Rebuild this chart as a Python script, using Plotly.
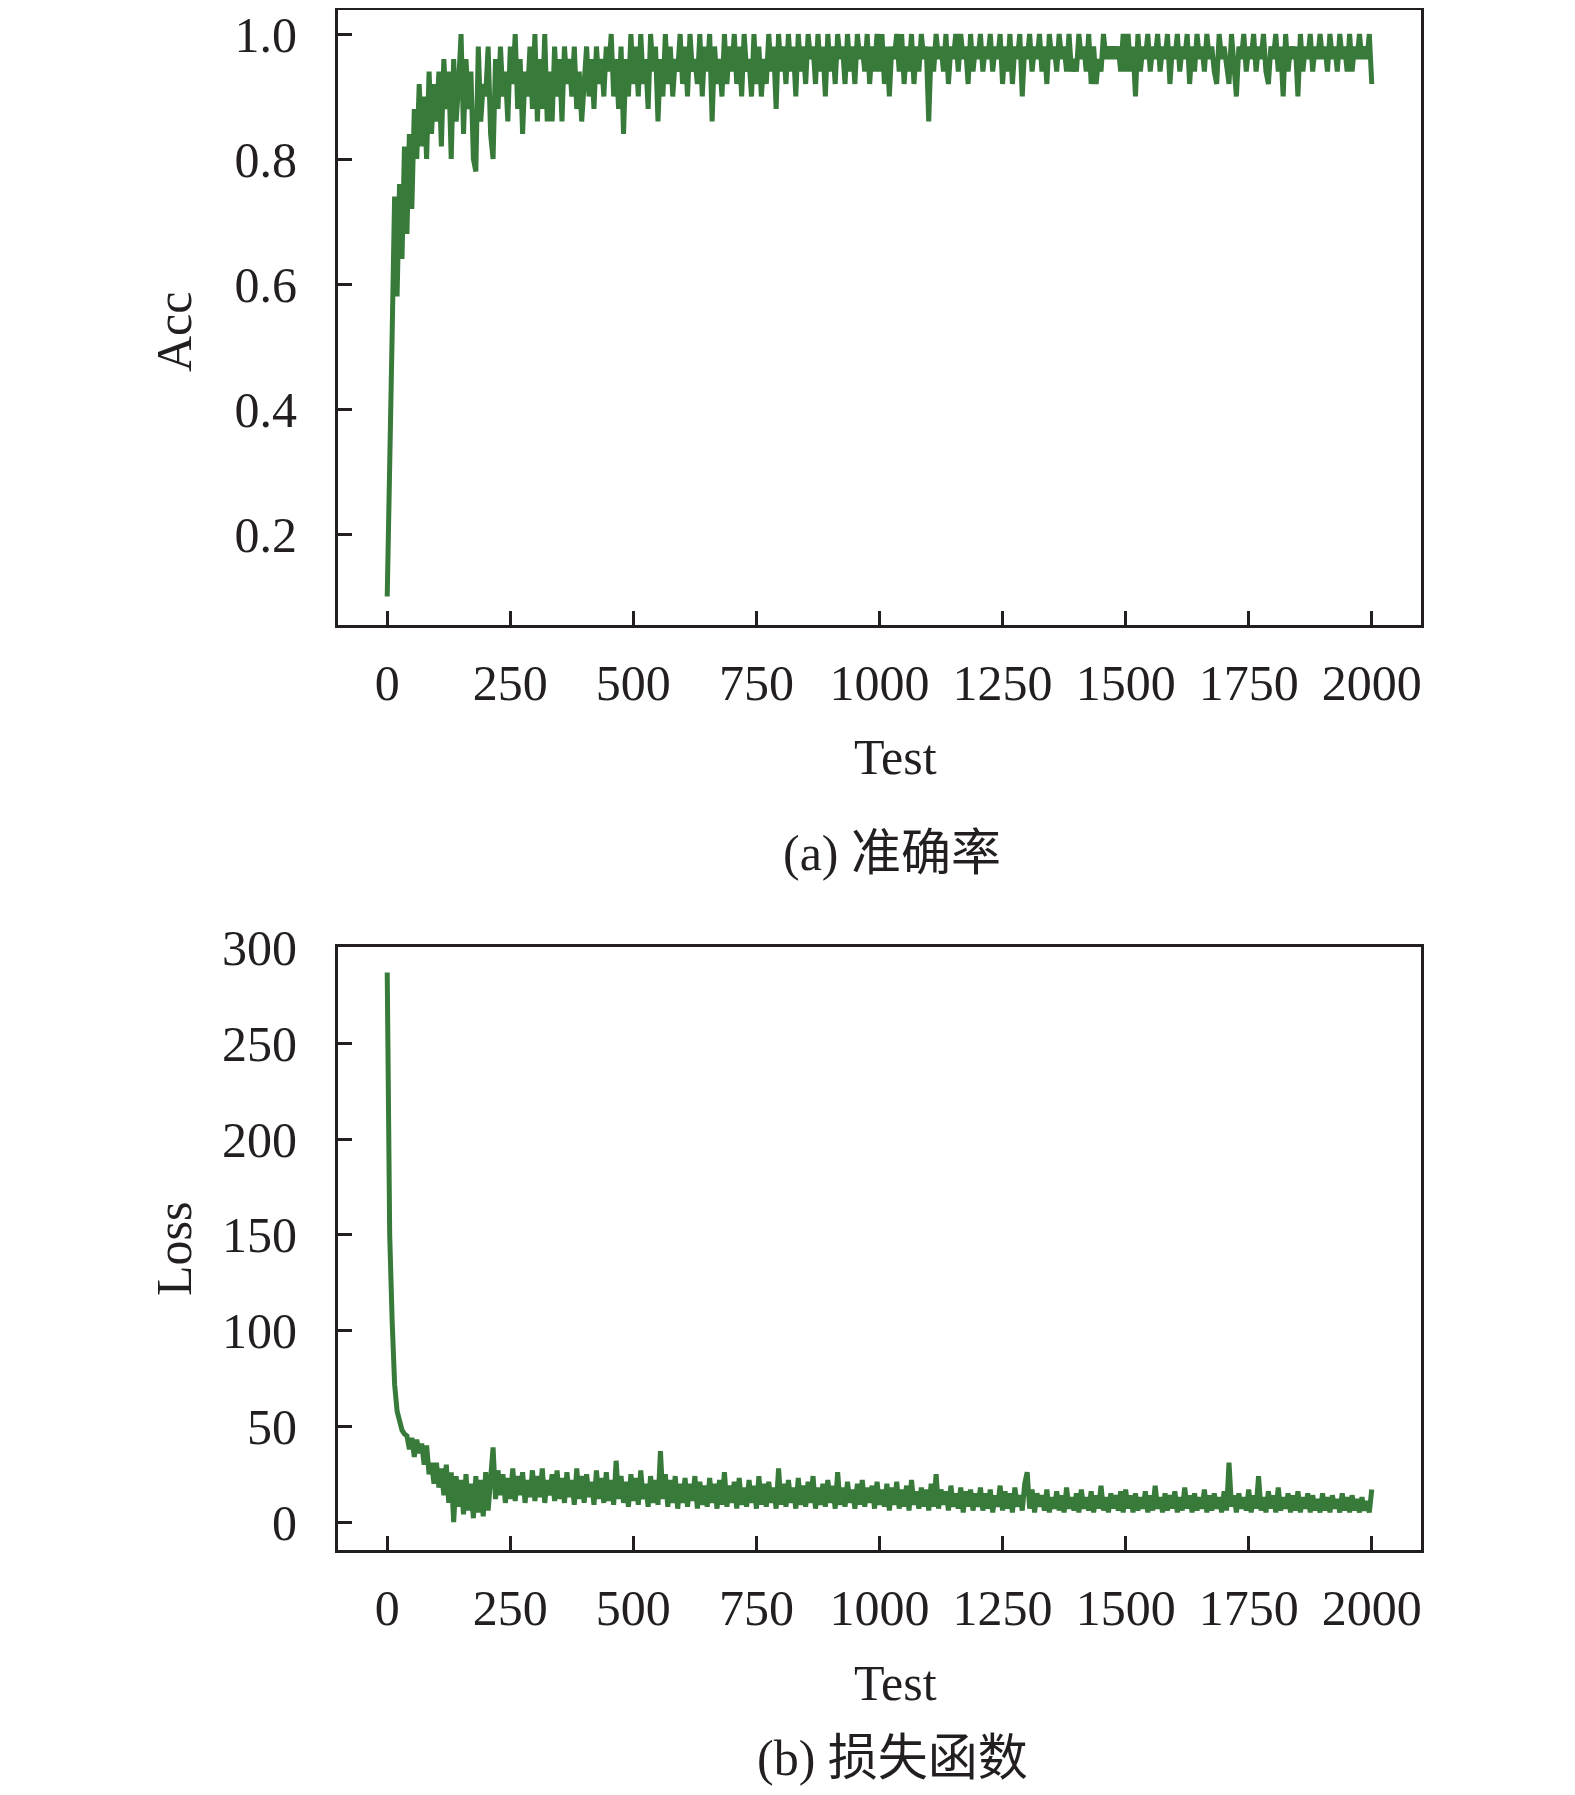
import plotly.graph_objects as go

# ---------------- data ----------------
test_steps = list(range(0, 2001, 5))

acc_values = [
    0.10, 0.36, 0.52, 0.74, 0.58, 0.76, 0.64, 0.82, 0.68, 0.84, 0.72, 0.88, 0.80, 0.92, 0.82, 0.90, 0.80, 0.94, 0.84, 0.92,
    0.86, 0.94, 0.82, 0.96, 0.88, 0.94, 0.80, 0.96, 0.86, 0.92, 1.00, 0.84, 0.96, 0.88, 0.94, 0.80, 0.78, 0.98, 0.86, 0.92,
    0.90, 0.98, 0.84, 0.80, 0.96, 0.88, 0.98, 0.90, 0.94, 0.86, 0.98, 0.92, 1.00, 0.88, 0.96, 0.84, 0.94, 0.90, 0.98, 0.88,
    1.00, 0.86, 0.96, 0.88, 1.00, 0.86, 0.94, 0.86, 0.98, 0.90, 0.96, 0.86, 0.98, 0.92, 0.96, 0.90, 0.98, 0.88, 0.94, 0.86,
    0.92, 0.98, 0.90, 0.96, 0.88, 0.98, 0.92, 0.96, 0.90, 0.98, 0.94, 1.00, 0.90, 0.96, 0.88, 0.98, 0.84, 0.96, 0.90, 1.00,
    0.92, 0.98, 0.90, 1.00, 0.92, 0.96, 0.88, 1.00, 0.94, 0.98, 0.86, 0.96, 0.90, 1.00, 0.92, 0.98, 0.90, 0.96, 0.94, 1.00,
    0.92, 0.98, 0.90, 1.00, 0.94, 0.96, 0.92, 1.00, 0.90, 0.98, 0.94, 1.00, 0.86, 0.98, 0.92, 0.96, 0.90, 1.00, 0.92, 0.98,
    0.94, 1.00, 0.92, 0.98, 0.90, 1.00, 0.94, 0.96, 0.90, 1.00, 0.92, 0.98, 0.90, 0.96, 0.92, 1.00, 0.94, 0.98, 0.88, 1.00,
    0.94, 0.98, 0.92, 1.00, 0.94, 0.98, 0.90, 1.00, 0.94, 0.98, 0.92, 1.00, 0.96, 0.98, 0.92, 1.00, 0.94, 0.98, 0.90, 1.00,
    0.94, 0.98, 0.92, 1.00, 0.96, 0.98, 0.92, 1.00, 0.94, 0.98, 0.92, 1.00, 0.96, 0.98, 0.94, 1.00, 0.92, 0.98, 0.94, 1.00,
    0.94, 1.00, 0.92, 0.98, 0.90, 0.98, 0.96, 1.00, 0.94, 1.00, 0.92, 0.98, 0.94, 1.00, 0.92, 0.98, 0.94, 1.00, 0.96, 0.98,
    0.86, 0.98, 0.94, 1.00, 0.96, 0.98, 0.94, 1.00, 0.92, 0.98, 0.96, 1.00, 0.94, 1.00, 0.96, 0.98, 0.92, 1.00, 0.94, 0.98,
    0.96, 1.00, 0.94, 0.98, 0.96, 1.00, 0.94, 0.98, 0.96, 1.00, 0.92, 0.98, 0.94, 1.00, 0.92, 0.98, 0.96, 1.00, 0.90, 0.98,
    0.96, 1.00, 0.94, 0.98, 0.96, 1.00, 0.94, 0.98, 0.92, 1.00, 0.96, 0.98, 0.94, 1.00, 0.96, 0.98, 0.94, 1.00, 0.94, 0.96,
    0.94, 1.00, 0.96, 0.98, 0.94, 1.00, 0.92, 0.98, 0.92, 0.96, 0.94, 1.00, 0.96, 0.98, 0.96, 0.98, 0.96, 0.98, 0.94, 1.00,
    0.94, 1.00, 0.94, 0.98, 0.90, 1.00, 0.94, 0.98, 0.96, 1.00, 0.94, 0.98, 0.96, 1.00, 0.94, 0.98, 0.96, 1.00, 0.92, 0.98,
    0.96, 1.00, 0.94, 0.98, 0.96, 1.00, 0.92, 0.98, 0.94, 1.00, 0.96, 0.98, 0.94, 1.00, 0.96, 0.98, 0.94, 0.92, 1.00, 0.96,
    0.98, 0.94, 0.92, 1.00, 0.94, 0.90, 0.98, 0.96, 1.00, 0.94, 0.98, 0.96, 1.00, 0.94, 0.98, 0.96, 1.00, 0.94, 0.92, 0.98,
    0.96, 1.00, 0.94, 0.98, 0.90, 1.00, 0.94, 0.98, 0.96, 0.98, 0.90, 1.00, 0.94, 0.98, 0.96, 1.00, 0.94, 0.98, 0.96, 1.00,
    0.96, 0.98, 0.94, 1.00, 0.96, 0.98, 0.94, 1.00, 0.96, 0.98, 0.94, 1.00, 0.94, 0.98, 0.96, 1.00, 0.96, 0.98, 0.96, 1.00,
    0.92,
]

loss_values = [
    287, 150, 105, 72, 58, 52, 48, 46, 45, 38, 44, 34, 43, 36, 41, 30, 40, 25, 31, 20,
    31, 18, 28, 14, 30, 10, 26, 0, 24, 8, 22, 4, 25, 6, 20, 2, 24, 5, 22, 3,
    26, 6, 20, 39, 12, 27, 14, 25, 10, 23, 12, 28, 11, 24, 14, 26, 10, 22, 13, 27,
    11, 24, 13, 28, 10, 22, 14, 25, 11, 27, 12, 23, 10, 26, 13, 22, 9, 28, 12, 24,
    10, 25, 13, 21, 9, 27, 12, 23, 10, 26, 11, 22, 9, 32, 12, 24, 10, 21, 8, 25,
    11, 23, 9, 27, 12, 20, 8, 24, 10, 22, 9, 37, 12, 25, 8, 22, 10, 24, 7, 20,
    10, 23, 8, 20, 11, 24, 7, 21, 9, 19, 8, 23, 10, 20, 7, 22, 9, 26, 8, 19,
    10, 21, 7, 23, 9, 18, 8, 22, 10, 19, 7, 24, 9, 20, 8, 21, 10, 18, 7, 28,
    9, 20, 8, 22, 10, 18, 7, 23, 9, 19, 8, 21, 10, 24, 7, 18, 9, 20, 8, 22,
    10, 19, 7, 26, 9, 18, 8, 21, 10, 17, 7, 20, 9, 22, 8, 18, 10, 19, 7, 21,
    9, 17, 8, 20, 6, 18, 9, 21, 7, 17, 8, 19, 6, 22, 9, 16, 7, 18, 8, 17,
    6, 20, 8, 25, 7, 17, 9, 16, 6, 19, 8, 15, 7, 18, 5, 16, 8, 17, 6, 15,
    8, 18, 6, 15, 7, 17, 5, 14, 8, 19, 6, 16, 7, 15, 5, 18, 8, 14, 6, 20,
    26, 7, 17, 5, 15, 8, 14, 6, 17, 5, 13, 7, 16, 6, 14, 5, 18, 7, 13, 6,
    15, 5, 17, 7, 13, 6, 16, 5, 14, 7, 19, 6, 13, 5, 15, 7, 14, 6, 16, 5,
    17, 7, 14, 5, 15, 6, 13, 7, 16, 5, 14, 6, 19, 7, 13, 5, 15, 6, 14, 7,
    16, 5, 13, 6, 18, 7, 14, 5, 15, 6, 13, 7, 17, 5, 14, 6, 15, 7, 13, 5,
    16, 6, 31, 8, 14, 5, 15, 7, 13, 6, 17, 5, 14, 7, 24, 6, 13, 5, 16, 7,
    14, 5, 18, 6, 13, 7, 15, 5, 14, 6, 16, 5, 13, 7, 15, 5, 14, 6, 12, 5,
    15, 6, 13, 5, 14, 7, 12, 5, 15, 6, 13, 5, 14, 6, 12, 5, 13, 6, 11, 5,
    17,
]

x_ticks = [0, 250, 500, 750, 1000, 1250, 1500, 1750, 2000]
acc_ticks = [0.2, 0.4, 0.6, 0.8, 1.0]
loss_ticks = [0, 50, 100, 150, 200, 250, 300]

acc_title = "Acc"
loss_title = "Loss"
x_title = "Test"
caption_a = "(a) 准确率"
caption_b = "(b) 损失函数"

# ---------------- figure ----------------
W, H = 1575, 1795
INK = "#231f20"
GREEN = "#377a3a"
FONT = "Liberation Serif, Times New Roman, Noto Sans CJK SC, serif"

def px(x):
    return x / W

def py(y):
    return 1 - y / H

fig = go.Figure()
fig.add_trace(go.Scatter(x=test_steps, y=acc_values, mode="lines",
                         line=dict(color=GREEN, width=5), xaxis="x", yaxis="y",
                         showlegend=False, hoverinfo="skip"))
fig.add_trace(go.Scatter(x=test_steps, y=loss_values, mode="lines",
                         line=dict(color=GREEN, width=5), xaxis="x2", yaxis="y2",
                         showlegend=False, hoverinfo="skip"))

axis_common = dict(showline=True, linewidth=3, linecolor=INK, mirror=True,
                   ticks="inside", ticklen=14, tickwidth=2.5, tickcolor=INK,
                   showgrid=False, zeroline=False, automargin=False,
                   ticklabeloverflow="allow",
                   tickfont=dict(family=FONT, size=50, color=INK))

xdom = [px(330), px(1413)]
fig.update_layout(
    width=W, height=H,
    margin=dict(l=0, r=0, t=0, b=0, autoexpand=False),
    paper_bgcolor="white", plot_bgcolor="white",
    xaxis=dict(domain=xdom, range=[-100, 2100], tickvals=x_ticks,
               anchor="y", ticklabelstandoff=12, **axis_common),
    yaxis=dict(domain=[py(617), py(1.5)], range=[0.0544, 1.0392], tickvals=acc_ticks,
               tickformat=".1f", anchor="x", ticklabelstandoff=28, **axis_common),
    xaxis2=dict(domain=xdom, range=[-100, 2100], tickvals=x_ticks,
                anchor="y2", ticklabelstandoff=12, **axis_common),
    yaxis2=dict(domain=[py(1542), py(939)], range=[-14.6, 300.3], tickvals=loss_ticks,
                anchor="x2", ticklabelstandoff=28, **axis_common),
)

def label(text, x, y, angle=0):
    fig.add_annotation(text=text, x=px(x), y=py(y), xref="paper", yref="paper",
                       xanchor="center", yanchor="middle", showarrow=False,
                       textangle=angle, font=dict(family=FONT, size=50, color=INK))

label(acc_title, 166, 324, -90)
label(loss_title, 166, 1241, -90)
label(x_title, 887, 749)
label(x_title, 887, 1675)
label(caption_a, 884, 845)
label(caption_b, 884, 1750)

fig.write_html("out.html")
